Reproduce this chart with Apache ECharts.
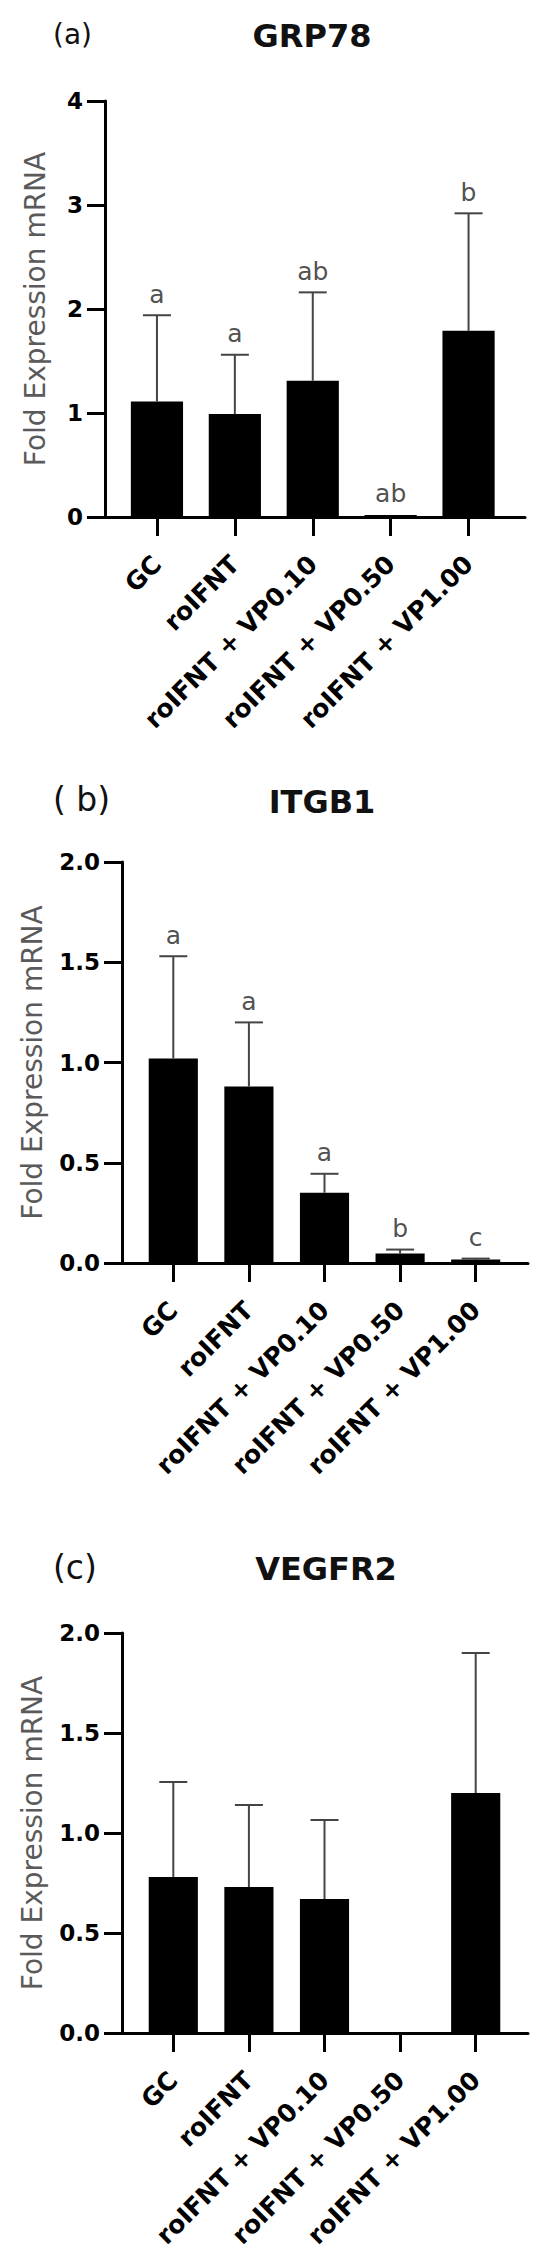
<!DOCTYPE html>
<html>
<head>
<meta charset="utf-8">
<script src="https://cdn.jsdelivr.net/npm/echarts@6/dist/echarts.min.js"></script>
<style>
  html, body { margin: 0; padding: 0; background: #fff; }
  #chart { width: 550px; height: 2257px; }
</style>
</head>
<body>
<div id="chart"></div>
<script>
// groups on the x axis
const categories = ['GC', 'roIFNT', 'roIFNT + VP0.10', 'roIFNT + VP0.50', 'roIFNT + VP1.00'];

// (a) GRP78
const grp78Mean = [1.11, 0.99, 1.31, 0.02, 1.79];
const grp78Err = [0.83, 0.57, 0.85, 0, 1.13];
const grp78Letters = ['a', 'a', 'ab', 'ab', 'b'];

// (b) ITGB1
const itgb1Mean = [1.02, 0.88, 0.35, 0.047, 0.017];
const itgb1Err = [0.51, 0.32, 0.095, 0.02, 0.005];
const itgb1Letters = ['a', 'a', 'a', 'b', 'c'];

// (c) VEGFR2
const vegfr2Mean = [0.78, 0.73, 0.67, 0, 1.20];
const vegfr2Err = [0.475, 0.41, 0.395, 0, 0.70];
const vegfr2Letters = ['', '', '', '', ''];

const yAxisName = 'Fold Expression mRNA';
const FONT = 'DejaVu Sans';

// layout of each panel (pixels)
const panels = [
  { tag: '(a)', title: 'GRP78', mean: grp78Mean, err: grp78Err, letters: grp78Letters,
    yMax: 4, yStep: 1, decimals: 0,
    axisX: 105, top: 101, bottom: 517, lineEnd: 525, bandLeft: 118, bandWidth: 389.5,
    gap: '33%', nameGap: 56, tagY: 34, tagSize: 28, titleX: 312, titleY: 36 },
  { tag: '( b)', title: 'ITGB1', mean: itgb1Mean, err: itgb1Err, letters: itgb1Letters,
    yMax: 2, yStep: 0.5, decimals: 1,
    axisX: 122, top: 862, bottom: 1263, lineEnd: 528, bandLeft: 135.5, bandWidth: 378,
    gap: '35%', nameGap: 76, tagY: 799, tagSize: 33, titleX: 322, titleY: 802 },
  { tag: '(c)', title: 'VEGFR2', mean: vegfr2Mean, err: vegfr2Err, letters: vegfr2Letters,
    yMax: 2, yStep: 0.5, decimals: 1,
    axisX: 122, top: 1633, bottom: 2033, lineEnd: 528, bandLeft: 135.5, bandWidth: 378,
    gap: '35%', nameGap: 76, tagY: 1567, tagSize: 33, titleX: 326, titleY: 1569 }
];

const titles = [];
const grids = [];
const xAxes = [];
const yAxes = [];
const series = [];

panels.forEach(function (p, k) {
  const frame = 2 * k;
  const plot = 2 * k + 1;

  titles.push({
    text: p.tag, left: 53, top: p.tagY, padding: 0,
    textAlign: 'left', textVerticalAlign: 'middle',
    textStyle: { fontFamily: FONT, fontWeight: 'normal', fontSize: p.tagSize, color: '#111' }
  });
  titles.push({
    text: p.title, left: p.titleX, top: p.titleY, padding: 0,
    textAlign: 'center', textVerticalAlign: 'middle',
    textStyle: { fontFamily: FONT, fontWeight: 'bold', fontSize: 32, color: '#111' }
  });

  // frame grid: carries y axis and the long baseline
  grids.push({ left: p.axisX, top: p.top, width: p.lineEnd - p.axisX, height: p.bottom - p.top });
  // plot grid: carries the bars
  grids.push({ left: p.bandLeft, top: p.top, width: p.bandWidth, height: p.bottom - p.top });

  xAxes.push({
    type: 'value', gridIndex: frame, min: 0, max: 1,
    axisLine: { show: true, onZero: false, lineStyle: { color: '#000', width: 3 } },
    axisTick: { show: false }, axisLabel: { show: false }, splitLine: { show: false }
  });
  xAxes.push({
    type: 'category', gridIndex: plot, data: categories,
    axisLine: { show: false },
    axisTick: { show: true, alignWithLabel: true, length: 19, lineStyle: { color: '#000', width: 3 } },
    axisLabel: {
      interval: 0, rotate: 45, margin: 43,
      fontFamily: FONT, fontWeight: 'bold', fontSize: 25, color: '#000'
    }
  });

  yAxes.push({
    type: 'value', gridIndex: frame, min: 0, max: p.yMax, interval: p.yStep,
    name: yAxisName, nameLocation: 'middle', nameGap: p.nameGap,
    nameTextStyle: { fontFamily: FONT, fontSize: 28, color: '#5a5a5a' },
    axisLine: { show: true, onZero: false, lineStyle: { color: '#000', width: 3 } },
    axisTick: { show: true, length: 18, lineStyle: { color: '#000', width: 3 } },
    axisLabel: {
      margin: 22, fontFamily: FONT, fontWeight: 'bold', fontSize: 23, color: '#000',
      formatter: function (v) { return v.toFixed(p.decimals); }
    },
    splitLine: { show: false }
  });
  yAxes.push({ type: 'value', gridIndex: plot, min: 0, max: p.yMax, show: false });

  series.push({
    type: 'bar', xAxisIndex: plot, yAxisIndex: plot,
    data: p.mean, barCategoryGap: p.gap,
    itemStyle: { color: '#000' }, silent: true
  });

  series.push({
    type: 'custom', xAxisIndex: plot, yAxisIndex: plot,
    data: p.mean.map(function (m, i) { return [i, m, p.err[i]]; }),
    renderItem: function (params, api) {
      const v = api.value(1);
      const e = api.value(2);
      if (!(e > 0)) return;
      const base = api.coord([api.value(0), v]);
      const tip = api.coord([api.value(0), v + e]);
      const half = 14;
      const style = { stroke: '#444', lineWidth: 2 };
      return {
        type: 'group',
        children: [
          { type: 'line', shape: { x1: base[0], y1: base[1], x2: tip[0], y2: tip[1] }, style: style },
          { type: 'line', shape: { x1: tip[0] - half, y1: tip[1], x2: tip[0] + half, y2: tip[1] }, style: style }
        ]
      };
    },
    z: 3, silent: true
  });

  series.push({
    type: 'scatter', xAxisIndex: plot, yAxisIndex: plot,
    data: p.mean.map(function (m, i) { return [i, m + p.err[i]]; }),
    symbolSize: 1, itemStyle: { color: 'rgba(0,0,0,0)' },
    label: {
      show: true, position: 'top', distance: 8,
      fontFamily: FONT, fontSize: 25, color: '#222',
      formatter: function (d) { return p.letters[d.dataIndex]; }
    },
    z: 4, silent: true
  });
});

const chart = echarts.init(document.getElementById('chart'), null, { renderer: 'svg' });
chart.setOption({
  animation: false,
  backgroundColor: '#fff',
  title: titles,
  grid: grids,
  xAxis: xAxes,
  yAxis: yAxes,
  series: series
});
</script>
</body>
</html>
